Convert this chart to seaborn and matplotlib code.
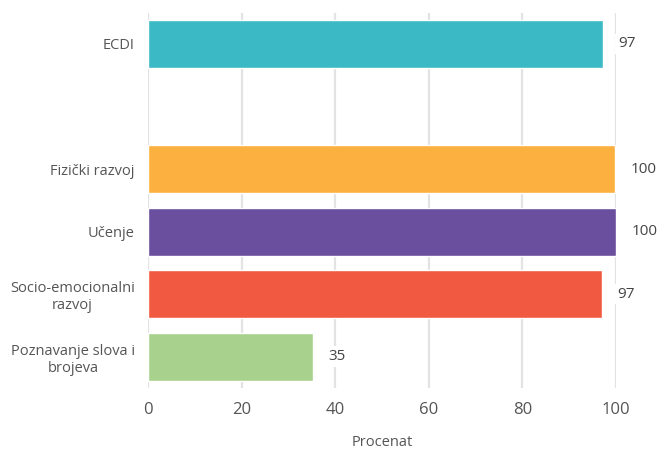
import matplotlib
matplotlib.use("Agg")
import matplotlib.pyplot as plt
import seaborn as sns
import pandas as pd

# Podaci
kategorije = ["ECDI", "Fizički razvoj", "Učenje",
              "Socio-emocionalni\nrazvoj", "Poznavanje slova i\nbrojeva"]
vrijednosti = [97.2, 99.8, 100.0, 97.0, 35.3]
boje = ["#3BBAC6", "#FBB040", "#6A4F9F", "#F15A40", "#A8D18D"]
redoslijed = ["ECDI", " ", "Fizički razvoj", "Učenje",
              "Socio-emocionalni\nrazvoj", "Poznavanje slova i\nbrojeva"]

df = pd.DataFrame({"kategorija": kategorije, "procenat": vrijednosti})

sns.set_style("white")
plt.rcParams['font.family'] = ['Open Sans', 'DejaVu Sans']

fig = plt.figure(figsize=(6.62, 4.49), dpi=100)
ax = fig.add_axes([0.2236, 0.1359, 0.7069, 0.8358])

sns.barplot(data=df, x="procenat", y="kategorija", hue="kategorija",
            order=redoslijed, hue_order=kategorije,
            palette=dict(zip(kategorije, boje)), width=0.77,
            saturation=1, legend=False, ax=ax)

ax.set_xlim(0, 100)
ax.set_xticks([0, 20, 40, 60, 80, 100])
ax.grid(True, axis='x', color='#e3e3e3', linewidth=1.6)
ax.set_axisbelow(True)
for s in ax.spines.values():
    s.set_visible(False)

ax.tick_params(axis='x', length=4, color='#e3e3e3', width=1.6, pad=6,
               labelsize=12, labelcolor='#555555')
ax.tick_params(axis='y', length=0, pad=9.5, labelsize=10.5, labelcolor='#555555')
for lbl in ax.get_yticklabels():
    lbl.set_multialignment('center')

ax.set_ylabel("")
ax.set_xlabel("Procenat", fontsize=10.5, color='#555555', labelpad=12)

for cont in ax.containers:
    ax.bar_label(cont, fmt='%.0f', padding=11, fontsize=11, color='#444444',
                 bbox=dict(facecolor='white', edgecolor='none', pad=2))

fig.savefig("out.png", dpi=100)
